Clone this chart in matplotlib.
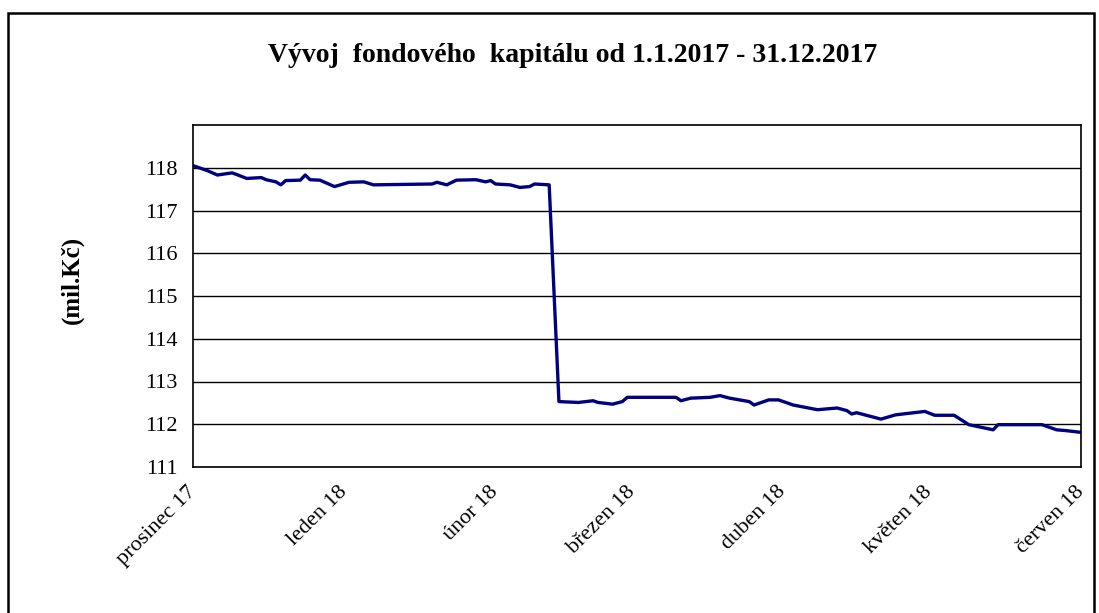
import numpy as np
import matplotlib
matplotlib.use('Agg')
import matplotlib.pyplot as plt
from matplotlib.patches import Rectangle

plt.rcParams['font.family'] = ['Liberation Serif', 'DejaVu Serif']

# fund capital (mil. Kc)
dates = ['2017-12-01', '2017-12-04', '2017-12-06', '2017-12-09', '2017-12-10',
         '2017-12-12', '2017-12-15', '2017-12-16', '2017-12-18', '2017-12-19',
         '2017-12-20', '2017-12-23', '2017-12-24', '2017-12-25', '2017-12-27',
         '2017-12-30', '2018-01-02', '2018-01-05', '2018-01-07', '2018-01-19',
         '2018-01-20', '2018-01-22', '2018-01-24', '2018-01-28', '2018-01-30',
         '2018-01-31', '2018-02-01', '2018-02-04', '2018-02-06', '2018-02-08',
         '2018-02-09', '2018-02-12', '2018-02-14', '2018-02-18', '2018-02-21',
         '2018-02-22', '2018-02-25', '2018-02-27', '2018-02-28', '2018-03-10',
         '2018-03-11', '2018-03-13', '2018-03-17', '2018-03-19', '2018-03-21',
         '2018-03-25', '2018-03-26', '2018-03-29', '2018-03-31', '2018-04-03',
         '2018-04-08', '2018-04-12', '2018-04-14', '2018-04-15', '2018-04-16',
         '2018-04-21', '2018-04-24', '2018-04-27', '2018-04-30', '2018-05-02',
         '2018-05-06', '2018-05-09', '2018-05-14', '2018-05-15', '2018-05-24',
         '2018-05-27', '2018-05-29', '2018-06-01']
values = [118.05, 117.93, 117.83, 117.88, 117.84,
          117.75, 117.77, 117.72, 117.67, 117.60,
          117.70, 117.71, 117.83, 117.72, 117.71,
          117.56, 117.66, 117.67, 117.60, 117.62,
          117.66, 117.60, 117.71, 117.72, 117.67,
          117.70, 117.62, 117.60, 117.54, 117.56,
          117.62, 117.60, 112.53, 112.51, 112.55,
          112.51, 112.47, 112.53, 112.63, 112.63,
          112.55, 112.61, 112.63, 112.67, 112.61,
          112.53, 112.45, 112.57, 112.57, 112.45,
          112.34, 112.38, 112.32, 112.24, 112.27,
          112.12, 112.22, 112.26, 112.30, 112.21,
          112.21, 111.99, 111.87, 111.99, 111.99,
          111.87, 111.85, 111.81]

month_ticks = ['2017-12-01', '2018-01-01', '2018-02-01', '2018-03-01',
               '2018-04-01', '2018-05-01', '2018-06-01']
month_labels = ['prosinec 17', 'leden 18', 'únor 18', 'březen 18',
                'duben 18', 'květen 18', 'červen 18']
y_ticks = [111, 112, 113, 114, 115, 116, 117, 118]

x = np.array(dates, dtype='datetime64[D]')
xt = np.array(month_ticks, dtype='datetime64[D]')

fig = plt.figure(figsize=(10.99, 6.13), dpi=100)
W, H = 1099, 613
ax = fig.add_axes([193/W, 1-467/H, (1081-193)/W, (467-125)/H])

ax.plot(x, values, color='#000080', lw=2.4, solid_joinstyle='round')

ax.set_ylim(111, 119)
ax.set_yticks(y_ticks)
ax.set_xlim(xt[0], xt[-1])
ax.set_xticks(xt)
ax.set_xticklabels(month_labels, rotation=45, ha='right', va='center',
                   rotation_mode='anchor', fontsize=16)
ax.tick_params(axis='x', length=0, pad=16)
ax.tick_params(axis='y', length=0, pad=11, labelsize=16)
ax.grid(axis='y', color='black', lw=1)
ax.set_axisbelow(True)
for s in ax.spines.values():
    s.set_color('black')
    s.set_linewidth(1.2)

fig.text(72/W, 1-280/H, '(mil.Kč)', rotation=90, ha='center', va='center',
         fontsize=18, fontweight='bold')
fig.text(573/W, 1-55/H, 'Vývoj  fondového  kapitálu od 1.1.2017 - 31.12.2017',
         ha='center', va='center', fontsize=20, fontweight='bold')

# outer chart frame (bottom edge is cut off in the original)
fig.patches.append(Rectangle((8/W, -0.05), (1094-8)/W, 1.05-13/H,
                             transform=fig.transFigure, fill=False,
                             edgecolor='black', lw=1.8, clip_on=False))

fig.savefig('out.png', dpi=100)
